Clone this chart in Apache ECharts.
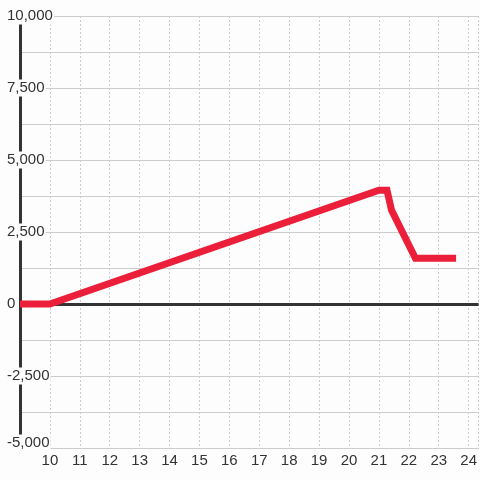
<!DOCTYPE html>
<html>
<head>
<meta charset="utf-8">
<script src="https://cdn.jsdelivr.net/npm/echarts@6/dist/echarts.min.js"></script>
<style>
  html, body { margin: 0; padding: 0; background: #fdfdfd; }
  #chart { width: 480px; height: 480px; }
</style>
</head>
<body>
<div id="chart"></div>
<script>
// x positions (hours) and values
const xValues = [9, 10, 21, 21.27, 21.42, 22.22, 23.58];
const yValues = [0, 0, 3950, 3950, 3260, 1590, 1590];
const xTicks = [10, 11, 12, 13, 14, 15, 16, 17, 18, 19, 20, 21, 22, 23, 24];
const yTicks = [-5000, -2500, 0, 2500, 5000, 7500, 10000];

const chart = echarts.init(document.getElementById("chart"));

const fmt = (v) => v.toLocaleString("en-US");

chart.setOption({
  backgroundColor: "#fdfdfd",
  animation: false,
  textStyle: { fontFamily: "Liberation Sans" },
  grid: { left: 20, right: 0, top: 16, bottom: 32 },
  xAxis: {
    type: "value",
    min: 9,
    max: 9 + 460 / 30,
    interval: 1,
    axisLine: { show: true, onZero: false, lineStyle: { color: "#ccc", width: 1 } },
    axisTick: { show: false },
    axisLabel: {
      color: "#333",
      fontSize: 15,
      margin: 5,
      showMaxLabel: false,
      formatter: (v) => (xTicks.includes(v) ? String(v) : "")
    },
    splitLine: { show: true, lineStyle: { color: "#ccc", type: [2, 2], width: 1 } }
  },
  yAxis: {
    type: "value",
    min: -5000,
    max: 10000,
    interval: 1250,
    axisLine: { show: true, lineStyle: { color: "#333", width: 3 } },
    axisTick: { show: false },
    axisLabel: {
      color: "#333",
      fontSize: 15,
      align: "left",
      margin: 14,
      backgroundColor: "#fdfdfd",
      padding: [1, 1, 1, 1],
      formatter: (v) => {
        if (!yTicks.includes(v)) return "";
        // bottom label sits a little above its grid line
        return v === yTicks[0] ? "{b|" + fmt(v) + "}" : fmt(v);
      },
      rich: { b: { fontSize: 15, color: "#333", padding: [0, 0, 10, 0] } }
    },
    splitLine: { show: true, lineStyle: { color: "#ccc", width: 1 } }
  },
  series: [
    {
      type: "line",
      data: xValues.map((x, i) => [x, yValues[i]]),
      showSymbol: false,
      z: 5,
      lineStyle: { color: "#ec1f3a", width: 7, cap: "butt", join: "miter" },
      markLine: {
        silent: true,
        symbol: "none",
        label: { show: false },
        lineStyle: { color: "#333", width: 3, type: "solid" },
        data: [{ yAxis: 0 }],
        z: 1
      }
    }
  ]
});
</script>
</body>
</html>
